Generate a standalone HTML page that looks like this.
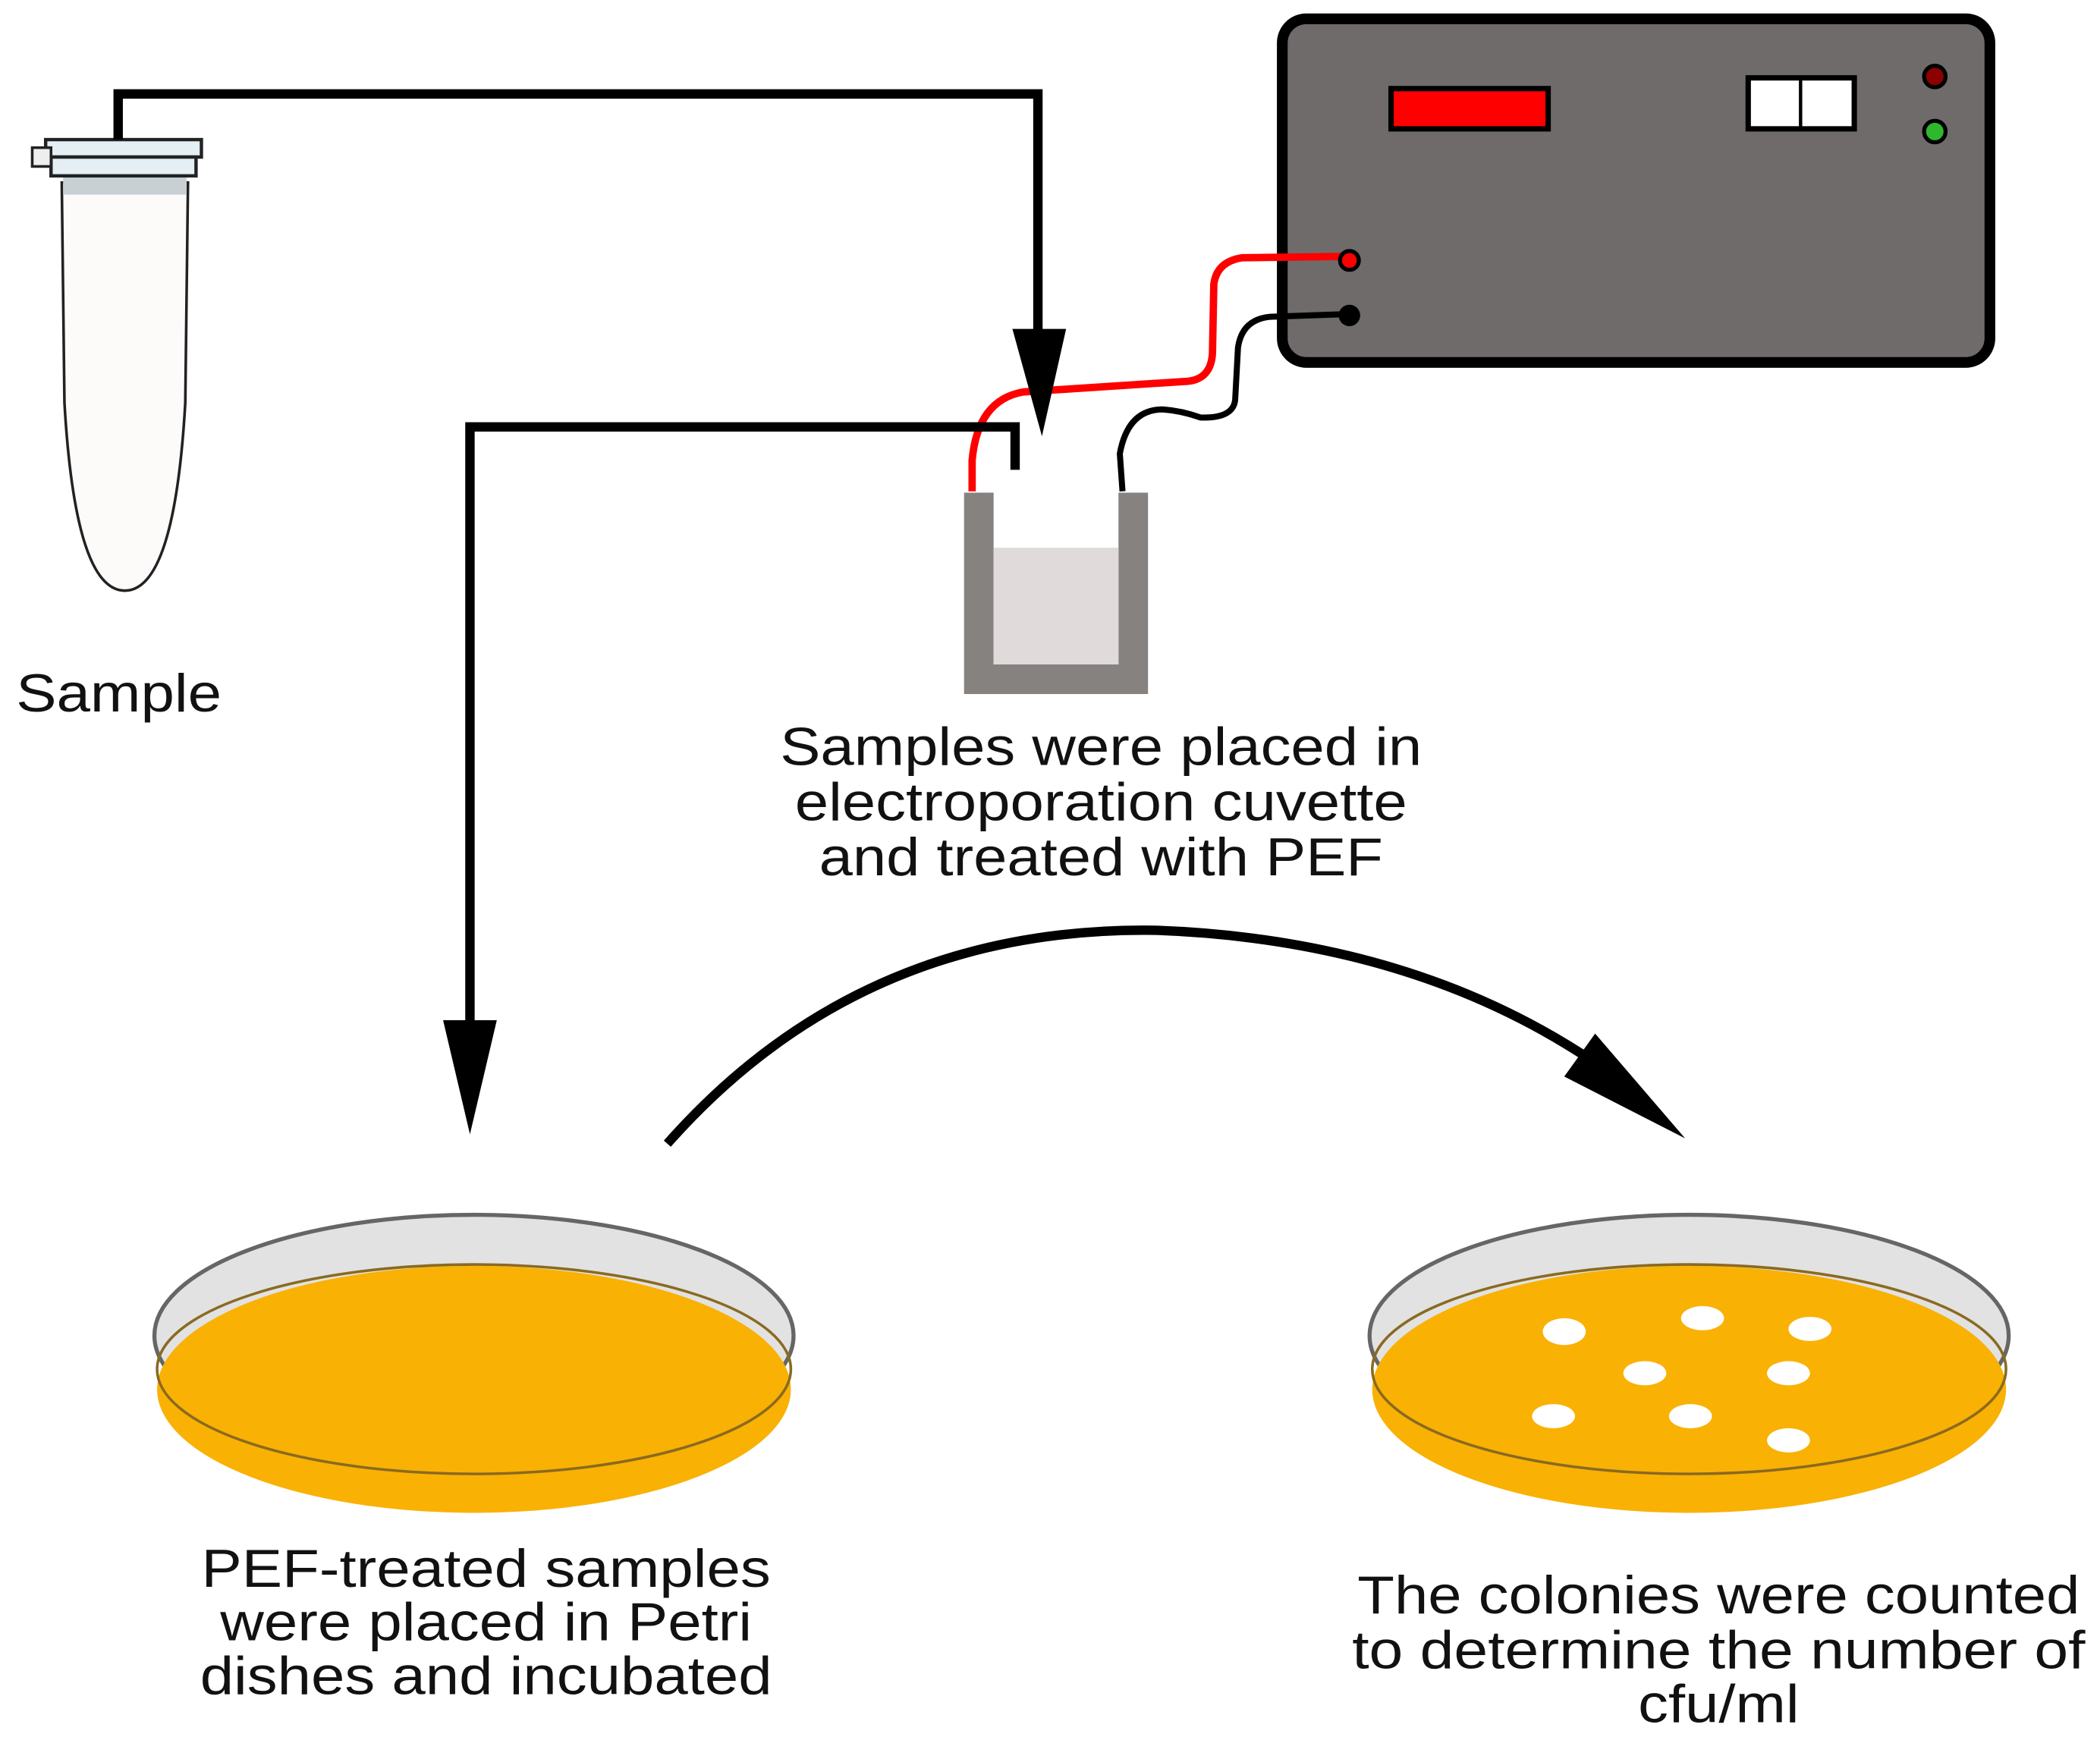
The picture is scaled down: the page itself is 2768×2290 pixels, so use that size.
<!DOCTYPE html>
<html><head><meta charset="utf-8"><style>
html,body{margin:0;padding:0;background:#fff;}
svg{display:block;}
text{font-family:"Liberation Sans",Arial,sans-serif;fill:#111;}
</style></head><body>
<svg width="2768" height="2290" viewBox="0 0 1564 1294" preserveAspectRatio="none" xmlns="http://www.w3.org/2000/svg">
<!-- Tube -->
<path d="M46,136 L140,136 L138,300 Q130,440 93,440 Q56,440 48,300 Z" fill="#fdfafa" stroke="#222" stroke-width="2"/>
<rect x="47" y="132" width="92" height="13" fill="#c9d0d4"/>
<rect x="34" y="104" width="116" height="13" fill="#e4eef3" stroke="#222" stroke-width="2.5"/>
<rect x="38" y="117" width="108" height="14" fill="#e4eef3" stroke="#222" stroke-width="2.5"/>
<rect x="24" y="110" width="14" height="14" fill="#eee" stroke="#222" stroke-width="2"/>
<!-- Arrow 1 -->
<polyline points="88,104 88,70 773,70 773,260" fill="none" stroke="#000" stroke-width="7"/>
<!-- Cuvette -->
<path d="M718,367 L740,367 L740,495 L833,495 L833,367 L855,367 L855,517 L718,517 Z" fill="#858280"/>
<rect x="740" y="408" width="93" height="87" fill="#e0dadb"/>
<!-- Device -->
<rect x="955" y="14" width="527" height="256" rx="18" fill="#6f6b6b" stroke="#000" stroke-width="8"/>
<rect x="1036" y="66" width="117" height="30" fill="#f00" stroke="#000" stroke-width="4"/>
<rect x="1302" y="58" width="79" height="38" fill="#fff" stroke="#000" stroke-width="4"/>
<line x1="1341" y1="58" x2="1341" y2="96" stroke="#000" stroke-width="2.5"/>
<circle cx="1441" cy="57" r="8" fill="#8b0000" stroke="#000" stroke-width="3"/>
<circle cx="1441" cy="98" r="8" fill="#2db82d" stroke="#000" stroke-width="3"/>
<!-- Wires -->
<path d="M724,366 L724,343 Q728,298 762,292 L885,284 Q902,282 903,263 L904,212 Q906,195 925,192 L1003,191" fill="none" stroke="#f00" stroke-width="5.5"/>
<path d="M836,366 L834,338 Q840,305 866,305 Q880,306 894,311 Q920,312 920,296 L922,259 Q925,238 946,236 L1003,234" fill="none" stroke="#000" stroke-width="4.5"/>
<circle cx="1005" cy="194" r="7" fill="#f00" stroke="#000" stroke-width="3"/>
<circle cx="1005" cy="235" r="8" fill="#000"/>
<polygon points="754,245 794,245 776,325" fill="#000"/>
<!-- Arrow 2 -->
<polyline points="756,350 756,318 350,318 350,775" fill="none" stroke="#000" stroke-width="7"/>
<polygon points="330,760 370,760 350,845" fill="#000"/>
<!-- Curved arrow -->
<path d="M497,852 Q640,690 860,693 Q1060,700 1200,800" fill="none" stroke="#000" stroke-width="7"/>
<polygon points="1255,848 1165,802 1188,770" fill="#000"/>
<!-- Petri 1 -->
<ellipse cx="353" cy="995" rx="238" ry="90" fill="#e2e2e2" stroke="#666" stroke-width="3"/>
<ellipse cx="353" cy="1035" rx="236" ry="92" fill="#f9b104"/>
<ellipse cx="353" cy="1020" rx="236" ry="78" fill="none" stroke="#8a6a20" stroke-width="2"/>
<!-- Petri 2 -->
<ellipse cx="1258" cy="995" rx="238" ry="90" fill="#e2e2e2" stroke="#666" stroke-width="3"/>
<ellipse cx="1258" cy="1035" rx="236" ry="92" fill="#f9b104"/>
<ellipse cx="1258" cy="1020" rx="236" ry="78" fill="none" stroke="#8a6a20" stroke-width="2"/>
<g fill="#fff">
<ellipse cx="1165" cy="992" rx="16" ry="10"/><ellipse cx="1268" cy="982" rx="16" ry="9"/>
<ellipse cx="1348" cy="990" rx="16" ry="9"/><ellipse cx="1225" cy="1023" rx="16" ry="9"/>
<ellipse cx="1332" cy="1023" rx="16" ry="9"/><ellipse cx="1157" cy="1055" rx="16" ry="9"/>
<ellipse cx="1259" cy="1055" rx="16" ry="9"/><ellipse cx="1332" cy="1073" rx="16" ry="9"/>
</g>
<!-- Texts -->
<text x="12" y="530" font-size="40" textLength="153" lengthAdjust="spacingAndGlyphs">Sample</text>
<g font-size="40" text-anchor="middle">
<text x="820" y="570" textLength="478" lengthAdjust="spacingAndGlyphs">Samples were placed in</text>
<text x="820" y="611" textLength="456" lengthAdjust="spacingAndGlyphs">electroporation cuvette</text>
<text x="820" y="652" textLength="420" lengthAdjust="spacingAndGlyphs">and treated with PEF</text>
<text x="362" y="1182" textLength="424" lengthAdjust="spacingAndGlyphs">PEF-treated samples</text>
<text x="362" y="1222" textLength="396" lengthAdjust="spacingAndGlyphs">were placed in Petri</text>
<text x="362" y="1262" textLength="426" lengthAdjust="spacingAndGlyphs">dishes and incubated</text>
<text x="1280" y="1202" textLength="538" lengthAdjust="spacingAndGlyphs">The colonies were counted</text>
<text x="1280" y="1243" textLength="546" lengthAdjust="spacingAndGlyphs">to determine the number of</text>
<text x="1280" y="1283" textLength="120" lengthAdjust="spacingAndGlyphs">cfu/ml</text>
</g>
</svg>
</body></html>
